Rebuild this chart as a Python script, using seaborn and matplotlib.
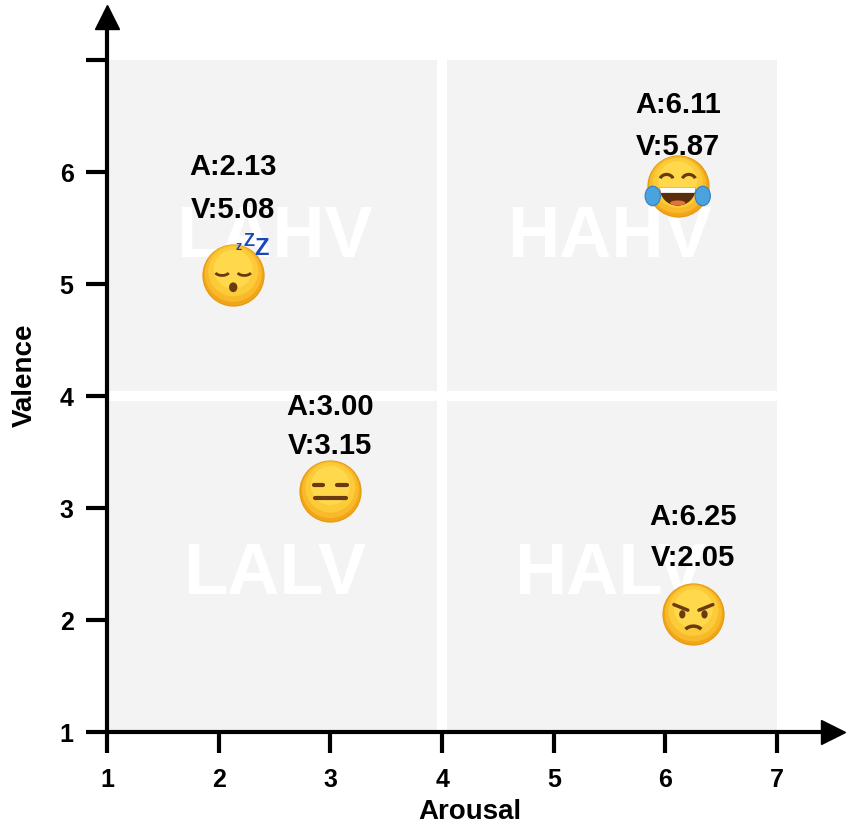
import matplotlib
matplotlib.use('Agg')
import matplotlib.pyplot as plt
import seaborn as sns
import pandas as pd
from matplotlib.patches import Rectangle, Circle, Ellipse, Arc, Wedge, Polygon
from matplotlib.lines import Line2D
from matplotlib.text import Text
from matplotlib.offsetbox import DrawingArea, AnnotationBbox

# ---------------- data ----------------
emotions = ['sleepy', 'joy', 'neutral', 'angry']
arousal = [2.13, 6.11, 3.00, 6.25]
valence = [5.08, 5.87, 3.15, 2.05]

quadrant_labels = ['LALV', 'HALV', 'LAHV', 'HAHV']
quadrant_arousal = [2.5, 5.5, 2.5, 5.5]
quadrant_valence = [2.5, 2.5, 5.5, 5.5]
quadrant_bounds = [1, 4, 7]

x_ticks = [1, 2, 3, 4, 5, 6, 7]
x_tick_labels = ['1', '2', '3', '4', '5', '6', '7']
y_ticks = [1, 2, 3, 4, 5, 6, 7]
y_tick_labels = ['1', '2', '3', '4', '5', '6', '']

# label placement (points above the data point) -- layout only
a_label_offset = [78, 59, 61, 71]
v_label_offset = [47, 29, 33, 41]

df = pd.DataFrame({'emotion': emotions, 'arousal': arousal, 'valence': valence})

# ---------------- style ----------------
sns.set_theme(style='ticks')
plt.rcParams['font.family'] = ['Liberation Sans', 'DejaVu Sans']
plt.rcParams['font.weight'] = 'bold'

fig = plt.figure(figsize=(8.51, 8.28), dpi=100)
ax = fig.add_axes([107 / 851, 95 / 828, 726 / 851, 715 / 828])
ax.set_xlim(1, 7.5)
ax.set_ylim(1, 7.38)

# quadrant backgrounds
gap = 0.045
for i in range(2):
    for j in range(2):
        x0 = quadrant_bounds[i] + (gap if i == 1 else 0)
        x1 = quadrant_bounds[i + 1] - (gap if i == 0 else 0)
        y0 = quadrant_bounds[j] + (gap if j == 1 else 0)
        y1 = quadrant_bounds[j + 1] - (gap if j == 0 else 0)
        ax.add_patch(Rectangle((x0, y0), x1 - x0, y1 - y0,
                               facecolor='#f3f3f3', edgecolor='none', zorder=0))

for lab, qx, qy in zip(quadrant_labels, quadrant_arousal, quadrant_valence):
    ax.annotate(lab, xy=(qx, qy), xytext=(0, -7), textcoords='offset points',
                fontsize=52, fontweight='bold', color='white',
                ha='center', va='center', zorder=1)

# emoji base
sns.scatterplot(data=df, x='arousal', y='valence', s=1936, color='#F2A516',
                edgecolor='#E39A12', linewidth=0.8, legend=False, ax=ax, zorder=3)

BROWN = '#6A3A10'


def face(kind):
    da = DrawingArea(60, 60, 30, 30, clip=False)
    for r, dy, c in [(20.5, 1.0, '#F8BA2A'), (18, 2.5, '#FCCB3A'), (14, 4.0, '#FFD84C')]:
        da.add_artist(Circle((0, dy), r, facecolor=c, edgecolor='none'))
    if kind == 'sleepy':
        for ex in (-8, 8):
            da.add_artist(Arc((ex, 3), 11, 7, theta1=200, theta2=340, lw=2.0, color=BROWN))
        da.add_artist(Ellipse((0, -9), 6, 7, facecolor=BROWN, edgecolor='none'))
        for zx, zy, fs in [(4, 21, 9), (11.5, 25, 13), (20, 19.5, 17)]:
            da.add_artist(Text(zx, zy, 'z' if fs < 10 else 'Z', fontsize=fs, fontweight='bold',
                               color='#1A47B8', ha='center', va='center',
                               family='Liberation Sans'))
    elif kind == 'joy':
        for ex in (-8, 8):
            da.add_artist(Arc((ex, 4), 10, 9, theta1=20, theta2=160, lw=2.3, color=BROWN))
        da.add_artist(Wedge((0, -1), 13, 180, 360, facecolor='#5A2D0C', edgecolor='none'))
        da.add_artist(Polygon([(-13, -1), (13, -1), (12.1, -4.8), (-12.1, -4.8)],
                              closed=True, facecolor='white', edgecolor='none'))
        da.add_artist(Ellipse((0, -12), 11, 3.5, facecolor='#E0733E', edgecolor='none'))
        for tx in (-18, 18):
            da.add_artist(Ellipse((tx, -7), 11, 14, facecolor='#4AA3DF',
                                  edgecolor='#2F7FC4', lw=0.8))
    elif kind == 'neutral':
        for x0, x1 in [(-12, -5), (5, 12)]:
            da.add_artist(Line2D([x0, x1], [4, 4], lw=3, color=BROWN, solid_capstyle='round'))
        da.add_artist(Line2D([-11, 11], [-5, -5], lw=3, color=BROWN, solid_capstyle='round'))
    elif kind == 'angry':
        da.add_artist(Line2D([-14, -4], [7, 3], lw=2.5, color=BROWN, solid_capstyle='round'))
        da.add_artist(Line2D([14, 4], [7, 3], lw=2.5, color=BROWN, solid_capstyle='round'))
        for ex in (-8, 8):
            da.add_artist(Ellipse((ex, 0), 4.5, 6, facecolor=BROWN, edgecolor='none'))
        da.add_artist(Arc((0, -14), 14, 11, theta1=30, theta2=150, lw=2.5, color=BROWN))
    return da


for emo, a, v, ao, vo in zip(emotions, arousal, valence, a_label_offset, v_label_offset):
    ab = AnnotationBbox(face(emo), (a, v), xycoords='data', frameon=False,
                        box_alignment=(0.5, 0.5), zorder=4, pad=0)
    ax.add_artist(ab)
    ax.annotate(f'A:{a:.2f}', xy=(a, v), xytext=(0, ao), textcoords='offset points',
                ha='center', va='center', fontsize=21, fontweight='bold', color='black', zorder=5)
    ax.annotate(f'V:{v:.2f}', xy=(a, v), xytext=(0, vo), textcoords='offset points',
                ha='center', va='center', fontsize=21, fontweight='bold', color='black', zorder=5)

# axes
sns.despine(ax=ax)
for s in ('left', 'bottom'):
    ax.spines[s].set_linewidth(3)
    ax.spines[s].set_color('black')
ax.set_xticks(x_ticks)
ax.set_xticklabels(x_tick_labels)
ax.set_yticks(y_ticks)
ax.set_yticklabels(y_tick_labels)
ax.tick_params(axis='both', direction='out', length=15, width=3, color='black',
               labelsize=18, labelcolor='black')
ax.tick_params(axis='x', pad=10)
ax.tick_params(axis='y', pad=9)
for t in ax.get_xticklabels() + ax.get_yticklabels():
    t.set_fontweight('bold')
ax.plot([1], [0], marker='>', ms=17, color='black', transform=ax.transAxes, clip_on=False)
ax.plot([0], [1], marker='^', ms=17, color='black', transform=ax.transAxes, clip_on=False)
ax.set_xlabel('Arousal', fontsize=20, fontweight='bold', color='black', labelpad=5)
ax.set_ylabel('Valence', fontsize=20, fontweight='bold', color='black', labelpad=16)
ax.set_facecolor('white')
ax.grid(False)

fig.savefig('out.png', dpi=100)
